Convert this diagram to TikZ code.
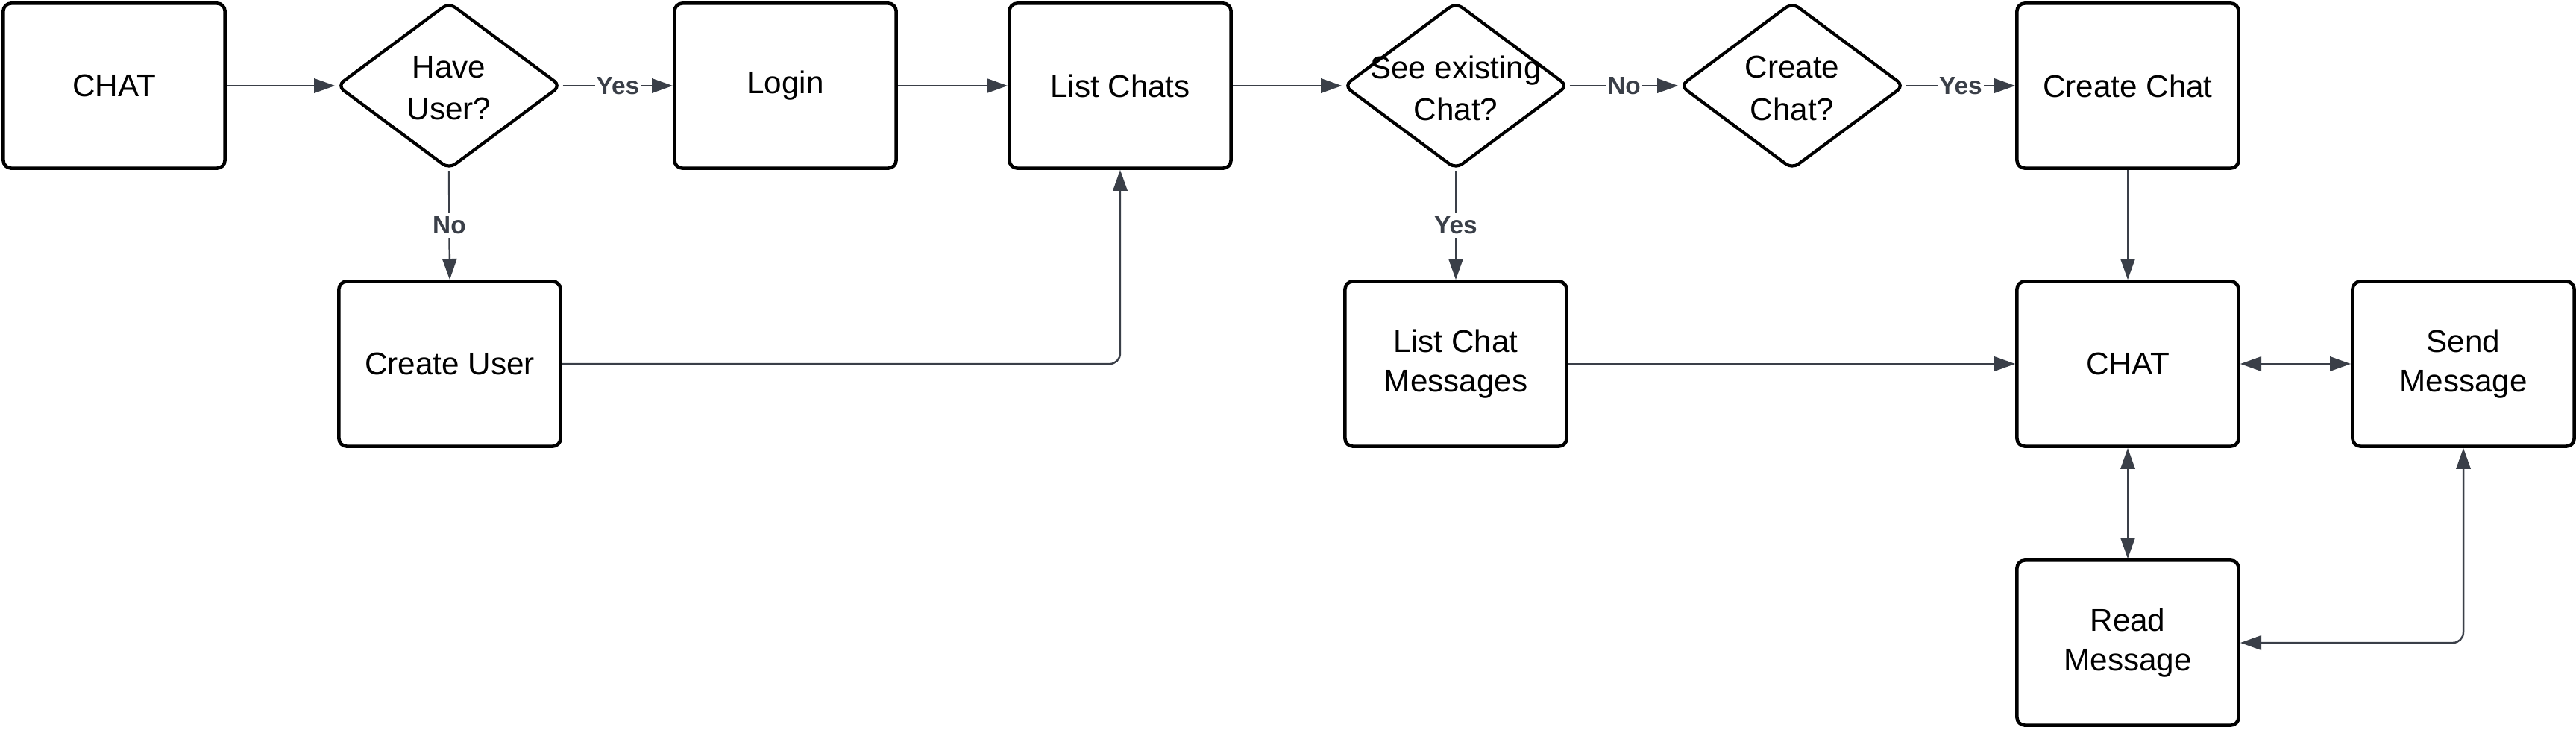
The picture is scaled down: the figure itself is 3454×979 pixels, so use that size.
\documentclass[tikz,border=0pt]{standalone}
\usepackage{fontspec}
\setmainfont{Liberation Sans}
\usetikzlibrary{shapes.geometric,arrows.meta}
\definecolor{conncol}{RGB}{58,63,72}
\begin{document}
\begin{tikzpicture}[x=0.01cm,y=-0.01cm,
 box/.style={draw=black,line width=1.3pt,rounded corners=3pt,minimum width=2.97cm,minimum height=2.21cm,align=center,font=\fontsize{12}{15}\selectfont,inner sep=0pt,fill=white},
 dec/.style={draw=black,line width=1.2pt,diamond,rounded corners=3pt,minimum width=3.01cm,minimum height=2.24cm,inner sep=0pt},
 dtext/.style={align=center,font=\fontsize{12}{16}\selectfont,inner sep=0pt},
 conn/.style={draw=conncol,line width=0.7pt,-{Triangle[length=8pt,width=5.5pt]}},
 conn2/.style={draw=conncol,line width=0.7pt,{Triangle[length=8pt,width=5.5pt]}-{Triangle[length=8pt,width=5.5pt]}},
 lbl/.style={fill=white,inner xsep=0.6pt,inner ysep=1.5pt,font=\bfseries\fontsize{9.5}{11}\selectfont,text=conncol},
]
\useasboundingbox (0,0) rectangle (3454,979);

\node[box] (chat1) at (153,115) {CHAT};
\node[dec] (hu) at (602,115) {};
\node[dtext] (hut) at ([yshift=-1pt]hu.center) {Have\\User?};
\node[box] (login) at (1053,115) {Login};
\node[box] (lc) at (1502,115) {List Chats};
\node[dec] (se) at (1952,115) {};
\node[dtext] (set) at ([yshift=-1pt]se.center) {See existing\\Chat?};
\node[dec] (cc) at (2403,115) {};
\node[dtext] (cct) at ([yshift=-1pt]cc.center) {Create\\Chat?};
\node[box] (ccb) at (2853,115) {Create Chat};
\node[box] (cu) at (603,488) {Create User};
\node[box] (lcm) at (1952,488) {List Chat\\Messages};
\node[box] (chat2) at (2853,488) {CHAT};
\node[box] (sm) at (3303,488) {Send\\Message};
\node[box] (rm) at (2853,862) {Read\\Message};

\draw[conn] (chat1.east) -- (hu.west);
\draw[conn] (hu.east) -- node[lbl]{Yes} (login.west);
\draw[conn] (hu.south) -- node[lbl]{No} (cu.north);
\draw[conn] (login.east) -- (lc.west);
\draw[conn,rounded corners=4pt] (cu.east) -| (lc.south);
\draw[conn] (lc.east) -- (se.west);
\draw[conn] (se.east) -- node[lbl]{No} (cc.west);
\draw[conn] (se.south) -- node[lbl]{Yes} (lcm.north);
\draw[conn] (cc.east) -- node[lbl]{Yes} (ccb.west);
\draw[conn] (ccb.south) -- (chat2.north);
\draw[conn] (lcm.east) -- (chat2.west);
\draw[conn2] (chat2.east) -- (sm.west);
\draw[conn2] (chat2.south) -- (rm.north);
\draw[conn2,rounded corners=4pt] (sm.south) |- (rm.east);
\end{tikzpicture}
\end{document}
